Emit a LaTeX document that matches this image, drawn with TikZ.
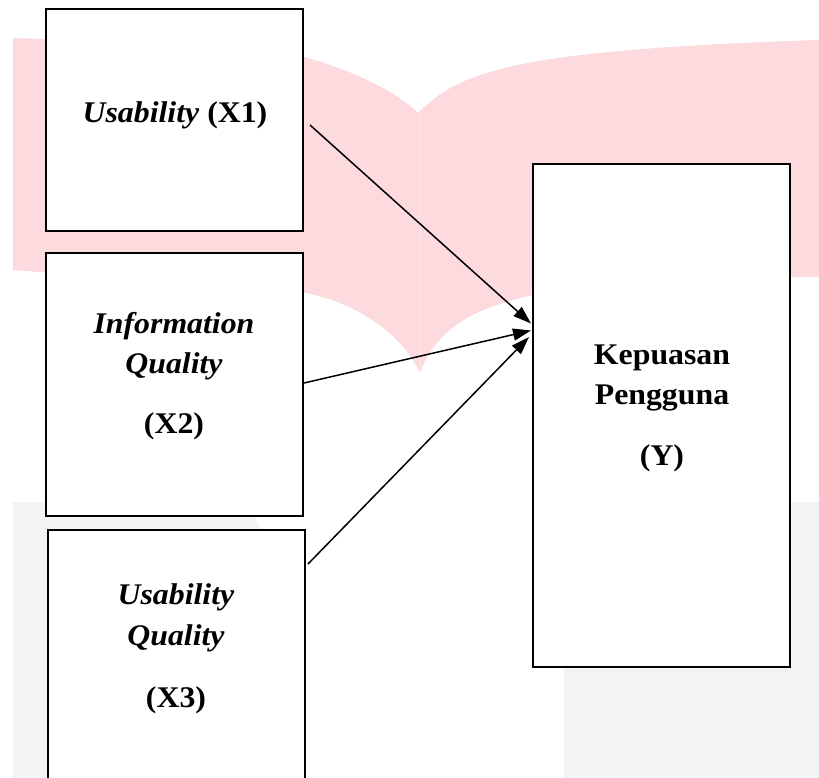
\documentclass[tikz,border=0pt]{standalone}
\usepackage{fontspec}
\setmainfont{Liberation Serif}[FakeStretch=1.06]
\usetikzlibrary{arrows.meta,calc}
\definecolor{wmpink}{RGB}{252,218,222}
\definecolor{wmlight}{RGB}{253,226,229}
\definecolor{wmgrey}{RGB}{243,243,246}
\begin{document}
\begin{tikzpicture}[x=1pt,y=-1pt,
  box/.style={draw=black, line width=2pt, fill=white, rectangle, inner sep=0pt},
  lbl/.style={anchor=base, inner sep=0pt, font=\fontsize{30}{34}\selectfont\bfseries},
  conn/.style={line width=1.5pt, -{Triangle[length=18pt,width=12pt]}}]
\useasboundingbox (0,0) rectangle (819,778);
\clip (0,0) rectangle (819,778);
% background watermark
\fill[white] (0,0) rectangle (819,778);
\fill[wmpink] (13,38) -- (250,46) .. controls (320,55) and (390,85) .. (418,113)
  .. controls (460,70) and (520,50) .. (819,40) -- (819,277)
  .. controls (560,280) and (450,290) .. (420,373)
  .. controls (400,330) and (350,300) .. (300,292) -- (13,270) -- cycle;
\draw[wmlight, line width=2pt] (420,116) -- (420,368);
\fill[wmgrey] (13,502) -- (245,502) -- (262,530) -- (262,778) -- (13,778) -- cycle;
\fill[wmgrey] (564,502) rectangle (819,778);
% boxes
\node[box, minimum width=257pt, minimum height=222pt] (X1) at (174.5,120) {};
\node[box, minimum width=257pt, minimum height=263pt] (X2) at (174.5,384.5) {};
\node[box, minimum width=257pt, minimum height=300pt] (X3) at (176.5,680) {};
\node[box, minimum width=257pt, minimum height=503pt] (Y) at (661.5,415.5) {};
% labels
\node[lbl] (t1) at (175,123) {\textit{Usability} (X1)};
\node[lbl] (t2a) at (174,333) {\textit{Information}};
\node[lbl] (t2b) at (174,373) {\textit{Quality}};
\node[lbl] (t2c) at (174,433) {(X2)};
\node[lbl] (t3a) at (176,604) {\textit{Usability}};
\node[lbl] (t3b) at (176,645) {\textit{Quality}};
\node[lbl] (t3c) at (176,707) {(X3)};
\node[lbl] (tya) at (662,364) {Kepuasan};
\node[lbl] (tyb) at (662,404) {Pengguna};
\node[lbl] (tyc) at (662,465) {(Y)};
% connectors
\draw[conn] ([shift={(6,5)}]X1.east) -- ([shift={(-1,-92)}]Y.west);
\draw[conn] ([shift={(0,-1.5)}]X2.east) -- ([shift={(-1,-85)}]Y.west);
\draw[conn] ([shift={(2,-116)}]X3.east) -- ([shift={(-3,-78.5)}]Y.west);
\end{tikzpicture}
\end{document}
